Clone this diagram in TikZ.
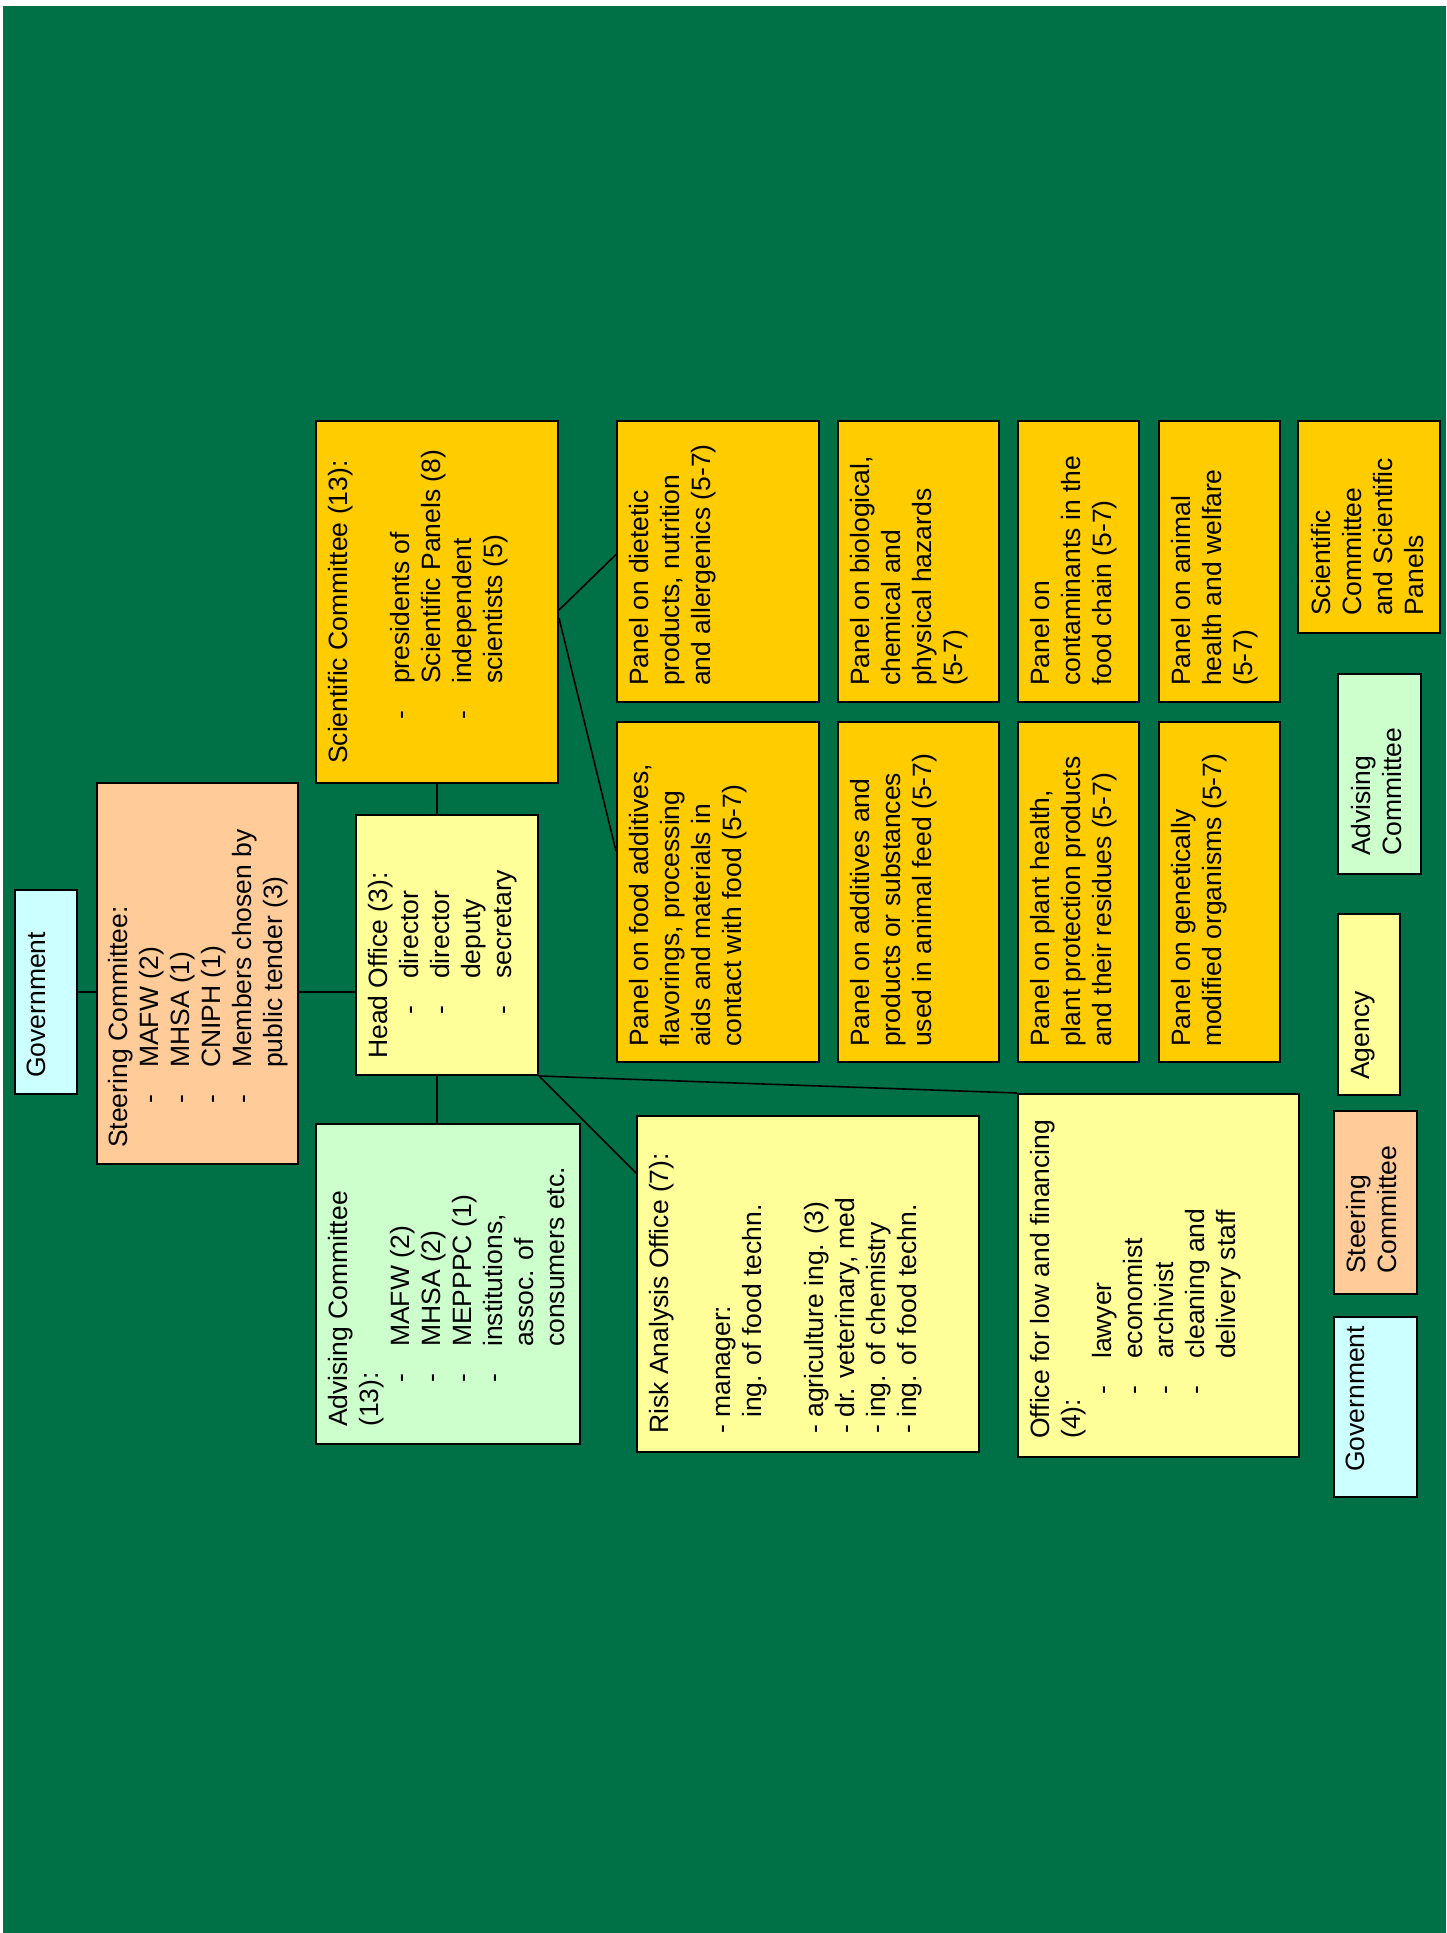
\documentclass[tikz,border=0pt]{standalone}
\usepackage{fontspec}
\setmainfont{Liberation Sans}
\usepackage{xcolor}
\usetikzlibrary{positioning}
\usetikzlibrary{calc}

\definecolor{bggreen}{RGB}{0,112,70}
\definecolor{govcol}{RGB}{204,255,255}
\definecolor{steercol}{RGB}{255,204,153}
\definecolor{scicol}{RGB}{255,204,0}
\definecolor{agencycol}{RGB}{255,255,153}
\definecolor{advcol}{RGB}{204,255,204}

\newcommand{\dashitem}{\makebox[80pt][l]{\hspace*{44pt}-}}
\newcommand{\noitem}{\hspace*{80pt}}

\begin{document}
\begin{tikzpicture}[x=1pt, y=-1pt,
    box/.style={draw, inner sep=0pt, line width=2pt},
    txt/.style={rotate=90, anchor=north west, align=left, inner sep=0pt,
      font=\fontsize{26.5}{31}\selectfont},
    link/.style={line width=1.6pt}]
    \useasboundingbox (0,0) rectangle (1446,1933);
    \fill[white] (0,0) rectangle (1446,1933);
    \fill[bggreen] (3,6) rectangle (1446,1933);

    % government, steering committee, agency
    \node[box, fill=govcol, minimum width=62pt, minimum height=204pt] (gov) at (46,992) {};
    \node[box, fill=steercol, minimum width=201pt, minimum height=381pt] (steer) at (197.5,973.5) {};
    \node[box, fill=scicol, minimum width=242pt, minimum height=362pt] (scicom) at (437,602) {};
    \node[box, fill=agencycol, minimum width=182pt, minimum height=260pt] (head) at (447,945) {};
    \node[box, fill=advcol, minimum width=264pt, minimum height=320pt] (advis) at (448,1284) {};
    \node[box, fill=agencycol, minimum width=342pt, minimum height=336pt] (risk) at (808,1284) {};
    \node[box, fill=agencycol, minimum width=281pt, minimum height=363pt] (lawfin) at (1158.5,1275.5) {};

    \node[txt] (gov-t) at ([xshift=13pt,yshift=17pt]gov.south west) {Government};
    \node[txt] (steer-t) at ([xshift=12pt,yshift=17pt]steer.south west)
      {Steering Committee:\\ \dashitem MAFW (2)\\ \dashitem MHSA (1)\\ \dashitem CNIPH (1)\\
       \dashitem Members chosen by\\ \noitem public tender (3)};
    \node[txt] (scicom-t) at ([xshift=13pt,yshift=20pt]scicom.south west)
      {Scientific Committee (13):\\[31pt] \dashitem presidents of\\ \noitem Scientific Panels (8)\\
       \dashitem independent\\ \noitem scientists (5)};
    \node[txt] (head-t) at ([xshift=13pt,yshift=17pt]head.south west)
      {Head Office (3):\\ \dashitem director\\ \dashitem director\\ \noitem deputy\\ \dashitem secretary};
    \node[txt] (advis-t) at ([xshift=13pt,yshift=18pt]advis.south west)
      {Advising Committee\\ (13):\\ \dashitem MAFW (2)\\ \dashitem MHSA (2)\\ \dashitem MEPPPC (1)\\
       \dashitem institutions,\\ \noitem assoc. of\\ \noitem consumers etc.};
    \node[txt] (risk-t) at ([xshift=13pt,yshift=19pt]risk.south west)
      {Risk Analysis Office (7):\\[31pt] - manager:\\ \hphantom{- }ing. of food techn.\\[31pt]
       - agriculture ing. (3)\\ - dr. veterinary, med\\ - ing. of chemistry\\ - ing. of food techn.};
    \node[txt] (lawfin-t) at ([xshift=13pt,yshift=19pt]lawfin.south west)
      {Office for low and financing\\ (4):\\ \dashitem lawyer\\ \dashitem economist\\
       \dashitem archivist\\ \dashitem cleaning and\\ \noitem delivery staff};

    % scientific panels
    \node[box, fill=scicol, minimum width=202pt, minimum height=281pt] (p1) at (718,561.5) {};
    \node[box, fill=scicol, minimum width=202pt, minimum height=340pt] (p2) at (718,892) {};
    \node[box, fill=scicol, minimum width=161pt, minimum height=281pt] (p3) at (918.5,561.5) {};
    \node[box, fill=scicol, minimum width=161pt, minimum height=340pt] (p4) at (918.5,892) {};
    \node[box, fill=scicol, minimum width=121pt, minimum height=281pt] (p5) at (1078.5,561.5) {};
    \node[box, fill=scicol, minimum width=121pt, minimum height=340pt] (p6) at (1078.5,892) {};
    \node[box, fill=scicol, minimum width=121pt, minimum height=281pt] (p7) at (1219.5,561.5) {};
    \node[box, fill=scicol, minimum width=121pt, minimum height=340pt] (p8) at (1219.5,892) {};

    \node[txt] (p1-t) at ([xshift=13pt,yshift=17pt]p1.south west)
      {Panel on dietetic\\ products, nutrition\\ and allergenics (5-7)};
    \node[txt] (p2-t) at ([xshift=13pt,yshift=16pt]p2.south west)
      {Panel on food additives,\\ flavorings, processing\\ aids and materials in\\ contact with food (5-7)};
    \node[txt] (p3-t) at ([xshift=13pt,yshift=17pt]p3.south west)
      {Panel on biological,\\ chemical and\\ physical hazards\\ (5-7)};
    \node[txt] (p4-t) at ([xshift=13pt,yshift=16pt]p4.south west)
      {Panel on additives and\\ products or substances\\ used in animal feed (5-7)};
    \node[txt] (p5-t) at ([xshift=13pt,yshift=17pt]p5.south west)
      {Panel on\\ contaminants in the\\ food chain (5-7)};
    \node[txt] (p6-t) at ([xshift=13pt,yshift=16pt]p6.south west)
      {Panel on plant health,\\ plant protection products\\ and their residues (5-7)};
    \node[txt] (p7-t) at ([xshift=13pt,yshift=17pt]p7.south west)
      {Panel on animal\\ health and welfare\\ (5-7)};
    \node[txt] (p8-t) at ([xshift=13pt,yshift=16pt]p8.south west)
      {Panel on genetically\\ modified organisms (5-7)};

    % legend
    \node[box, fill=scicol, minimum width=142pt, minimum height=212pt] (legsci) at (1369,527) {};
    \node[box, fill=advcol, minimum width=83pt, minimum height=200pt] (legadv) at (1379.5,774) {};
    \node[box, fill=agencycol, minimum width=62pt, minimum height=181pt] (legagency) at (1369,1004.5) {};
    \node[box, fill=steercol, minimum width=83pt, minimum height=183pt] (legsteer) at (1375.5,1202.5) {};
    \node[box, fill=govcol, minimum width=83pt, minimum height=180pt] (leggov) at (1375.5,1407) {};

    \node[txt] (legsci-t) at ([xshift=14pt,yshift=18pt]legsci.south west)
      {Scientific\\ Committee\\ and Scientific\\ Panels};
    \node[txt] (legadv-t) at ([xshift=14pt,yshift=19pt]legadv.south west) {Advising\\ Committee};
    \node[txt] (legagency-t) at ([xshift=14pt,yshift=16pt]legagency.south west) {Agency};
    \node[txt] (legsteer-t) at ([xshift=13pt,yshift=21pt]legsteer.south west) {Steering\\ Committee};
    \node[txt] (leggov-t) at ([xshift=13pt,yshift=26pt]leggov.south west) {Government};

    % connections
    \draw[link] (gov.east) -- (gov.east -| steer.west);
    \draw[link] (steer.east |- gov.east) -- (head.west |- gov.east);
    \draw[link] (scicom.south) -- (scicom.south |- head.north);
    \draw[link] (scicom.south |- head.south) -- (scicom.south |- advis.north);
    \draw[link] ([yshift=-8pt]scicom.east) -- ([yshift=7pt]p1.west);
    \draw[link] ([yshift=-16pt]scicom.east) -- ([yshift=41pt]p2.west);
    \draw[link] (head.south east) -- ([yshift=-58pt]risk.north west);
    \draw[link] (head.south east) -- (lawfin.north west);
\end{tikzpicture}
\end{document}
